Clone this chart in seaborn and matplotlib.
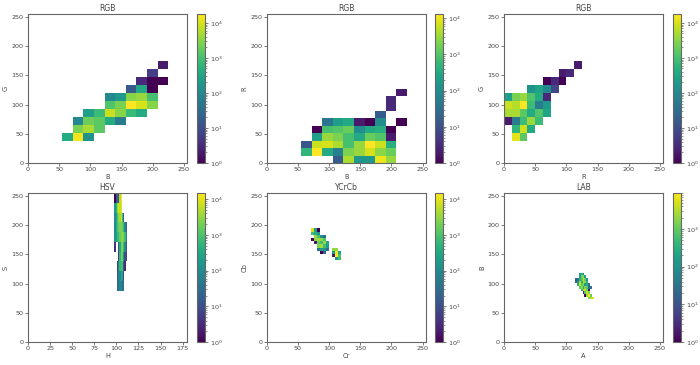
import numpy as np
import matplotlib
matplotlib.use("Agg")
import matplotlib.pyplot as plt
from matplotlib.colors import LogNorm
import seaborn as sns

# bin edges
bg_x = [55, 72, 89, 106, 123, 140, 157, 174, 191, 208, 225]
bg_y = [38, 51.7, 65.4, 79.1, 92.8, 106.5, 120.2, 133.9, 147.6, 161.3, 175]
br_y = [0, 12.7, 25.4, 38.1, 50.8, 63.5, 76.2, 88.9, 101.6, 114.3, 127]
rg_x = [0, 12.5, 25, 37.5, 50, 62.5, 75, 87.5, 100, 112.5, 125]
hs_x = [97.7, 99.1, 100.6, 102, 103.4, 104.9, 106.3, 107.7, 109.1, 110.6, 112]
hs_y = [88, 104.7, 121.4, 138.1, 154.8, 171.5, 188.2, 204.9, 221.6, 238.3, 255]
yc_x = [71.4, 76.2, 81, 85.7, 90.5, 95.3, 100.1, 104.9, 109.6, 114.4, 119.2]
yc_y = [139.8, 145.3, 150.7, 156.2, 161.7, 167.2, 172.6, 178.1, 183.6, 189, 194.5]
la_x = [114.4, 117.3, 120.3, 123.2, 126.2, 129.1, 132, 135, 137.9, 140.9, 143.8]
la_y = [73, 77.6, 82.1, 86.7, 91.3, 95.9, 100.4, 105, 109.6, 114.1, 118.7]

# counts per cell, bottom row first, 0 = empty
bg_counts = [
    [400, 15000, 150, 0, 0, 0, 0, 0, 0, 0],
    [0, 2500, 5000, 1500, 0, 0, 0, 0, 0, 0],
    [0, 100, 2000, 1500, 400, 60, 0, 0, 0, 0],
    [0, 0, 250, 800, 8000, 3000, 800, 400, 0, 0],
    [0, 0, 0, 0, 1200, 2500, 18000, 10000, 3000, 0],
    [0, 0, 0, 0, 100, 200, 3000, 4000, 1000, 0],
    [0, 0, 0, 0, 0, 0, 15, 350, 1, 0],
    [0, 0, 0, 0, 0, 0, 0, 3, 1, 1],
    [0, 0, 0, 0, 0, 0, 0, 0, 6, 0],
    [0, 0, 0, 0, 0, 0, 0, 0, 0, 2],
]
br_counts = [
    [0, 0, 0, 15, 4000, 150, 150, 10000, 3000, 0],
    [500, 13000, 300, 60, 2000, 3000, 7000, 2500, 1500, 0],
    [12, 6000, 7000, 4000, 800, 3000, 13000, 6000, 400, 0],
    [0, 200, 3000, 2000, 800, 300, 1500, 1000, 2, 0],
    [0, 1, 800, 1000, 1500, 100, 300, 400, 1, 0],
    [0, 0, 40, 200, 300, 2, 1, 100, 0, 1],
    [0, 0, 0, 0, 0, 0, 0, 15, 0, 0],
    [0, 0, 0, 0, 0, 0, 0, 0, 3, 0],
    [0, 0, 0, 0, 0, 0, 0, 0, 3, 0],
    [0, 0, 0, 0, 0, 0, 0, 0, 0, 2],
]
rg_counts = [
    [0, 12000, 1500, 0, 0, 0, 0, 0, 0, 0],
    [0, 600, 9000, 400, 0, 0, 0, 0, 0, 0],
    [2, 60, 800, 4000, 800, 0, 0, 0, 0, 0],
    [5000, 5000, 1500, 400, 1200, 300, 0, 0, 0, 0],
    [8000, 6000, 18000, 800, 60, 200, 0, 0, 0, 0],
    [250, 2500, 4000, 1200, 400, 3, 0, 0, 0, 0],
    [0, 0, 0, 150, 300, 100, 8, 0, 0, 0],
    [0, 0, 0, 0, 0, 1, 3, 1, 0, 0],
    [0, 0, 0, 0, 0, 0, 0, 2, 3, 0],
    [0, 0, 0, 0, 0, 0, 0, 0, 0, 2],
]
hs_counts = [
    [0, 0, 20, 40, 80, 80, 30, 40, 0, 0],
    [0, 0, 15, 60, 100, 300, 200, 10, 0, 0],
    [0, 0, 5, 100, 600, 1000, 800, 20, 3, 0],
    [0, 0, 0, 5, 600, 2000, 1500, 200, 10, 8],
    [4, 0, 0, 15, 300, 2000, 2500, 800, 100, 12],
    [150, 200, 600, 800, 1500, 2500, 3000, 2000, 700, 60],
    [100, 400, 800, 1500, 2000, 2000, 1500, 800, 100, 15],
    [100, 300, 1000, 2500, 4000, 6000, 800, 20, 0, 0],
    [200, 500, 3000, 8000, 6000, 9000, 0, 0, 0, 0],
    [1, 10, 30, 10, 5000, 15000, 0, 0, 0, 0],
]
yc_counts = [
    [0, 0, 0, 0, 0, 0, 0, 0, 200, 800],
    [0, 0, 0, 0, 0, 0, 0, 2, 15000, 1000],
    [0, 0, 0, 1, 20, 0, 0, 150, 12000, 300],
    [0, 0, 40, 200, 150, 30, 0, 3000, 3000, 0],
    [0, 0, 2500, 4000, 800, 200, 0, 0, 0, 0],
    [0, 2, 1500, 800, 3000, 300, 0, 0, 0, 0],
    [1, 3000, 4000, 3000, 1000, 0, 0, 0, 0, 0],
    [0, 3000, 1000, 100, 30, 0, 0, 0, 0, 0],
    [800, 400, 150, 0, 0, 0, 0, 0, 0, 0],
    [8000, 200, 1, 0, 0, 0, 0, 0, 0, 0],
]
la_counts = [
    [0, 0, 0, 0, 0, 0, 0, 1500, 3000, 5000],
    [0, 0, 0, 0, 0, 1, 2000, 9000, 1000, 0],
    [0, 0, 0, 0, 2, 800, 4000, 1500, 0, 0],
    [0, 0, 0, 300, 3000, 5000, 1000, 2, 0, 0],
    [0, 0, 800, 2000, 200, 1500, 800, 20, 30, 0],
    [0, 300, 4000, 800, 2000, 150, 300, 30, 0, 0],
    [20, 100, 3000, 300, 3000, 2000, 300, 0, 0, 0],
    [20, 30, 300, 800, 4000, 1000, 100, 0, 0, 0],
    [0, 0, 150, 1500, 2000, 150, 0, 0, 0, 0],
    [0, 0, 200, 300, 100, 0, 0, 0, 0, 0],
]

titles = ["RGB", "RGB", "RGB", "HSV", "YCrCb", "LAB"]
x_labels = ["B", "B", "R", "H", "Cr", "A"]
y_labels = ["G", "R", "G", "S", "Cb", "B"]
x_limits = [255, 255, 255, 180, 255, 255]
x_steps = [50, 50, 50, 25, 50, 50]

text_color = "#444444"
edge_color = "#666666"


def draw_panel(ax, cax, x_edges, y_edges, counts, title, xlabel, ylabel, xmax, xstep):
    counts = np.array(counts)
    x_mid = (np.array(x_edges[:-1]) + np.array(x_edges[1:])) / 2
    y_mid = (np.array(y_edges[:-1]) + np.array(y_edges[1:])) / 2
    xx, yy = np.meshgrid(x_mid, y_mid)
    sns.histplot(
        x=xx.ravel(),
        y=yy.ravel(),
        weights=counts.ravel(),
        bins=(x_edges, y_edges),
        cmap="viridis",
        norm=LogNorm(vmin=1, vmax=counts.max()),
        vmin=None,
        vmax=None,
        cbar=True,
        cbar_ax=cax,
        ax=ax,
    )
    ax.set_xlim(0, xmax)
    ax.set_ylim(0, 255)
    ax.set_xticks(np.arange(0, xmax + 1, xstep))
    ax.set_yticks(np.arange(0, 251, 50))
    ax.set_title(title, fontsize=5.5, pad=2.5, color=text_color)
    ax.set_xlabel(xlabel, fontsize=4.8, labelpad=1, color=text_color)
    ax.set_ylabel(ylabel, fontsize=4.8, labelpad=2, color=text_color)
    ax.tick_params(labelsize=4.6, length=2, width=0.5, pad=1, colors=text_color)
    for spine in ax.spines.values():
        spine.set_linewidth(0.8)
        spine.set_color(edge_color)
    cax.tick_params(which="major", labelsize=4.6, length=2, width=0.5, pad=1.5, colors=text_color)
    cax.tick_params(which="minor", length=1.2, width=0.4, colors=text_color)
    for spine in cax.spines.values():
        spine.set_linewidth(0.8)
        spine.set_color(edge_color)


fig = plt.figure(figsize=(7, 3.65), dpi=100)

panels = [
    (bg_x, bg_y, bg_counts),
    (bg_x, br_y, br_counts),
    (rg_x, bg_y, rg_counts),
    (hs_x, hs_y, hs_counts),
    (yc_x, yc_y, yc_counts),
    (la_x, la_y, la_counts),
]
lefts = [28, 266.7, 504]
bar_lefts = [197, 435, 673]
tops = [14, 193]

for i, (x_edges, y_edges, counts) in enumerate(panels):
    col = i % 3
    row = i // 3
    bottom = 1 - (tops[row] + 149) / 365
    ax = fig.add_axes([lefts[col] / 700, bottom, 159 / 700, 149 / 365])
    cax = fig.add_axes([bar_lefts[col] / 700, bottom, 8 / 700, 149 / 365])
    draw_panel(ax, cax, x_edges, y_edges, counts, titles[i], x_labels[i], y_labels[i], x_limits[i], x_steps[i])

fig.savefig("out.png", dpi=100)
